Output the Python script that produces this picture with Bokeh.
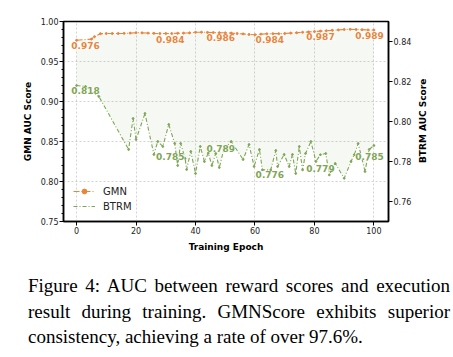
import numpy as np
from bokeh.plotting import figure
from bokeh.models import Range1d, LinearAxis, SingleIntervalTicker, PrintfTickFormatter, Div
from bokeh.layouts import column, row
from bokeh.core.properties import value
from bokeh.embed import file_html
from bokeh.resources import INLINE

# ---------------- data ----------------
gmn_epochs = [0, 5, 6, 8, 10, 12, 14, 16, 18, 20, 22, 24, 26, 28, 30, 32, 34, 36, 38, 40,
              42, 44, 46, 48, 50, 52, 54, 56, 58, 60, 62, 64, 66, 68, 70, 72, 74, 76, 78, 80,
              82, 84, 86, 88, 90, 92, 94, 96, 98, 100]
gmn_auc = [0.9765, 0.978, 0.981, 0.9848, 0.985, 0.985, 0.985, 0.9852, 0.9855, 0.986,
           0.9858, 0.9855, 0.9852, 0.985, 0.985, 0.985, 0.9853, 0.9855, 0.9858, 0.9865,
           0.9866, 0.9864, 0.9862, 0.986, 0.9858, 0.9855, 0.985, 0.9845, 0.9838, 0.9835,
           0.9842, 0.9846, 0.9848, 0.9848, 0.985, 0.9855, 0.986, 0.9865, 0.987, 0.9875,
           0.988, 0.9885, 0.989, 0.9895, 0.99, 0.9902, 0.99, 0.9898, 0.9895, 0.9893]

btrm_epochs = [0, 3, 7.5, 17.5, 19, 20, 23, 26, 27.3, 29, 31, 33, 34, 35, 36.5, 37, 38.4, 40,
               41.6, 43, 44.3, 45.5, 46.8, 48, 49.5, 52, 56, 58, 59.7, 61.5, 62.5, 65.3, 67,
               67.6, 69.8, 71.5, 72.6, 73.7, 74.9, 76, 77, 78.8, 80.5, 82, 83.8, 85, 87, 90,
               92.3, 93.4, 94.7, 97, 98.4, 100]
btrm_auc = [0.818, 0.8175, 0.8125, 0.786, 0.8015, 0.791, 0.804, 0.7835, 0.790, 0.7875,
            0.7985, 0.789, 0.778, 0.789, 0.7815, 0.776, 0.785, 0.774, 0.7875, 0.780,
            0.7842, 0.778, 0.784, 0.777, 0.786, 0.790, 0.781, 0.7885, 0.7775, 0.786,
            0.7758, 0.7758, 0.7855, 0.7775, 0.7835, 0.7775, 0.7835, 0.774, 0.7875, 0.7758,
            0.784, 0.790, 0.780, 0.7834, 0.784, 0.7733, 0.779, 0.7716, 0.780, 0.7834,
            0.789, 0.775, 0.786, 0.788]

label_epochs = [3, 31.5, 48.5, 65, 82, 98.5]
gmn_labels = [0.976, 0.984, 0.986, 0.984, 0.987, 0.989]
btrm_labels = [0.818, 0.785, 0.789, 0.776, 0.779, 0.785]

x_ticks_interval = 20
x_range = (-4.4, 104.9)
gmn_range = (0.75, 1.00)
btrm_range = (0.75, 0.85)

caption = ("Figure 4: AUC between reward scores and execution result during training. "
           "GMNScore exhibits superior consistency, achieving a rate of over 97.6%.")

ORANGE = "#E8853D"
GREEN = "#7EA655"
FONT = "DejaVu Sans"

# ---------------- figure ----------------
p = figure(frame_width=325, frame_height=200,
           x_range=Range1d(*x_range), y_range=Range1d(*gmn_range),
           output_backend="svg", toolbar_location=None,
           min_border_left=63, min_border_right=29, min_border_top=21, min_border_bottom=34,
           background_fill_color="white", border_fill_color="white")
p.extra_y_ranges = {"btrm": Range1d(*btrm_range)}
p.outline_line_color = "black"
p.outline_line_width = 1.5
p.outline_line_alpha = 1

# fill between the two curves (in screen space: map BTRM onto the left scale)
grid = np.array(sorted(set(gmn_epochs) | set(btrm_epochs)), dtype=float)
g_i = np.interp(grid, gmn_epochs, gmn_auc)
b_i = np.interp(grid, btrm_epochs, btrm_auc)
b_left = gmn_range[0] + (b_i - btrm_range[0]) * (gmn_range[1] - gmn_range[0]) / (btrm_range[1] - btrm_range[0])
p.varea(x=grid, y1=b_left, y2=g_i, fill_color=GREEN, fill_alpha=0.07)

# lines
p.line(gmn_epochs, gmn_auc, line_color=ORANGE, line_width=1.1, line_dash="6 2 1 2", legend_label="GMN")
p.scatter(gmn_epochs, gmn_auc, size=2.0, color=ORANGE, legend_label="GMN")
p.line(btrm_epochs, btrm_auc, line_color=GREEN, line_width=1.1, line_dash="4 2 1 2",
       y_range_name="btrm", legend_label="BTRM")
p.scatter(btrm_epochs, btrm_auc, size=1.8, color=GREEN, y_range_name="btrm")

# value labels
p.text(x=label_epochs, y=gmn_labels, text=[f"{v:.3f}" for v in gmn_labels],
       text_font=value(FONT), text_font_style="bold", text_font_size="9px", text_color=ORANGE,
       text_align="center", text_baseline="middle", y_offset=5,
       background_fill_color="white", background_fill_alpha=0.7)
p.text(x=label_epochs, y=btrm_labels, text=[f"{v:.3f}" for v in btrm_labels],
       text_font=value(FONT), text_font_style="bold", text_font_size="9px", text_color=GREEN,
       text_align="center", text_baseline="middle", y_offset=5, y_range_name="btrm",
       background_fill_color="white", background_fill_alpha=0.7)

# right axis
raxis = LinearAxis(y_range_name="btrm",
                   ticker=SingleIntervalTicker(interval=0.02, num_minor_ticks=0),
                   formatter=PrintfTickFormatter(format="%.2f"))
p.add_layout(raxis, "right")

p.yaxis[0].ticker = SingleIntervalTicker(interval=0.05, num_minor_ticks=5)
p.yaxis[0].formatter = PrintfTickFormatter(format="%.2f")
p.yaxis[0].axis_label = "GMN AUC Score"
p.xaxis.ticker = SingleIntervalTicker(interval=x_ticks_interval, num_minor_ticks=0)
p.xaxis.axis_label = "Training Epoch"

for ax in [p.xaxis[0], p.yaxis[0], raxis]:
    ax.axis_line_color = "black"
    ax.axis_line_width = 1.5
    ax.major_tick_out = 4
    ax.major_tick_in = 0
    ax.major_tick_line_color = "black"
    ax.minor_tick_out = 2
    ax.minor_tick_in = 0
    ax.major_label_text_font = FONT
    ax.major_label_text_font_size = "8px"
    ax.major_label_text_color = "#222222"
    ax.major_label_standoff = 1
    ax.axis_label_text_font = FONT
    ax.axis_label_text_font_size = "9px"
    ax.axis_label_text_font_style = "bold"
    ax.axis_label_text_color = "black"
    ax.axis_label_standoff = 5
p.xaxis[0].minor_tick_line_color = None
raxis.minor_tick_line_color = None

p.xgrid.grid_line_color = "#c8c8c8"
p.xgrid.grid_line_dash = "2 2"
p.xgrid.grid_line_width = 0.8
p.ygrid.grid_line_color = "#c8c8c8"
p.ygrid.grid_line_dash = "2 2"
p.ygrid.grid_line_width = 0.8

leg = p.legend[0]
leg.location = (10, 9)
leg.border_line_color = None
leg.background_fill_alpha = 0
leg.padding = 0
leg.margin = 0
leg.spacing = 3
leg.glyph_width = 22
leg.glyph_height = 12
leg.label_height = 12
leg.label_standoff = 8
leg.label_text_font = FONT
leg.label_text_font_size = "10px"
leg.label_text_color = "#222222"

# right-hand axis title, reading bottom-to-top like the left one
right_title = Div(text="BTRM AUC Score", width=12, height=200, margin=(21, 0, 0, 0),
                  styles={"writing-mode": "vertical-rl", "transform": "rotate(180deg)",
                          "text-align": "center", "font-family": FONT, "font-size": "9px",
                          "font-weight": "bold", "color": "black", "line-height": "12px"})

div = Div(text=caption, width=422, margin=(18, 0, 0, 28),
          styles={"font-family": "Liberation Serif", "font-size": "19px",
                  "line-height": "25.5px", "text-align": "justify", "color": "black"})

layout = column(row(p, right_title), div)
open("out.html", "w").write(file_html(layout, INLINE))
